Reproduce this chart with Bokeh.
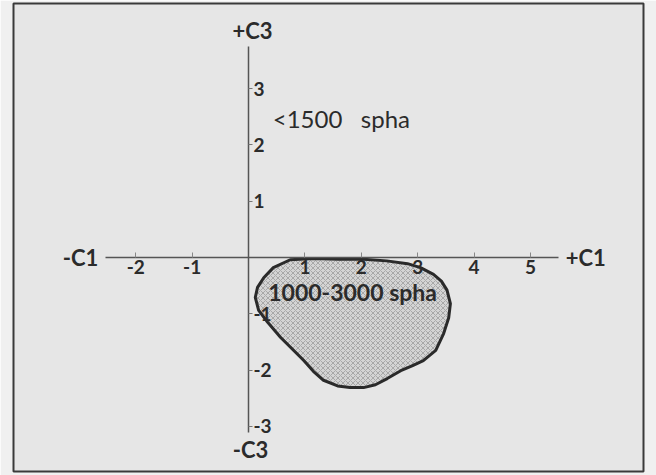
from bokeh.plotting import figure
from bokeh.models import LinearAxis, FixedTicker, Range1d, Label
from bokeh.embed import file_html
from bokeh.resources import INLINE

# ordination axes: tick positions
c1_ticks = [-2, -1, 1, 2, 3, 4, 5]
c3_ticks = [-3, -2, -1, 1, 2, 3]
c1_extent = (-2.54, 5.50)
c3_extent = (-3.11, 3.75)

# outline of the 1000-3000 spha stand-density region (C1, C3)
region_c1 = [0.74, 1.15, 1.60, 2.04, 2.45, 2.82, 3.05, 3.28, 3.42, 3.52,
             3.58, 3.55, 3.46, 3.32, 3.10, 2.91, 2.70, 2.46, 2.25, 2.04,
             1.80, 1.58, 1.33, 1.15, 0.98, 0.78, 0.57, 0.34, 0.18, 0.12,
             0.16, 0.27, 0.44]
region_c3 = [-0.04, -0.02, -0.03, -0.03, -0.06, -0.11, -0.18, -0.30, -0.42, -0.58,
             -0.82, -1.07, -1.35, -1.65, -1.83, -1.92, -2.01, -2.15, -2.26, -2.31,
             -2.31, -2.28, -2.18, -2.02, -1.83, -1.63, -1.42, -1.15, -0.94, -0.71,
             -0.53, -0.36, -0.18]

zone_labels = ["<1500\u00a0\u00a0\u00a0spha", "1000-3000 spha"]
zone_label_c1 = [0.43, 0.35]
zone_label_c3 = [2.47, -0.62]

FONT = "Lato"
INK = "#2b2b2b"

p = figure(width=656, height=475,
           x_range=Range1d(-4.167, 7.004), y_range=Range1d(-3.80, 4.51),
           x_axis_type=None, y_axis_type=None,
           output_backend="svg", toolbar_location=None,
           min_border_left=13, min_border_right=13,
           min_border_top=3, min_border_bottom=4)
p.grid.visible = False
p.background_fill_color = "#e6e6e6"
p.border_fill_color = "#f0f0f0"
p.outline_line_color = "#3a3a3a"
p.outline_line_width = 2

# shaded region
p.patch(region_c1, region_c3, fill_color="#d4d4d4",
        hatch_pattern="diagonal_cross", hatch_color="#a8a8a8",
        hatch_scale=5, hatch_weight=1,
        line_color="#2a2a2a", line_width=3)


def style_axis(ax):
    ax.axis_line_color = "#555555"
    ax.axis_line_width = 1.5
    ax.minor_tick_line_color = None
    ax.major_label_text_font = FONT
    ax.major_label_text_font_size = "19px"
    ax.major_label_text_font_style = "bold"
    ax.major_label_text_color = INK


# C1 axis through the origin
xa = LinearAxis(fixed_location=0, ticker=FixedTicker(ticks=c1_ticks),
                bounds=c1_extent,
                major_label_overrides={t: str(t) for t in c1_ticks})
style_axis(xa)
xa.major_tick_in = 5
xa.major_tick_out = 0
xa.major_tick_line_color = "#888888"
xa.major_label_standoff = 3
p.add_layout(xa, "below")

# C3 axis through the origin, labels on its right
ya = LinearAxis(fixed_location=0, ticker=FixedTicker(ticks=c3_ticks),
                bounds=c3_extent,
                major_label_overrides={t: str(t) for t in c3_ticks})
style_axis(ya)
ya.major_tick_in = 0
ya.major_tick_out = 4
ya.major_tick_line_color = "#777777"
ya.major_label_standoff = 1
ya.major_label_orientation = "horizontal"
p.add_layout(ya, "right")

# axis end labels
end_style = dict(text_font=FONT, text_font_size="22px", text_font_style="bold",
                 text_color=INK)
p.add_layout(Label(x=c1_extent[0], y=0, text="-C1", x_offset=-7,
                   text_align="right", text_baseline="middle", **end_style))
p.add_layout(Label(x=c1_extent[1], y=0, text="+C1", x_offset=7,
                   text_align="left", text_baseline="middle", **end_style))
p.add_layout(Label(x=0, y=c3_extent[1], text="+C3", x_offset=4, y_offset=2,
                   text_align="center", text_baseline="bottom", **end_style))
p.add_layout(Label(x=0, y=c3_extent[0], text="-C3", x_offset=2, y_offset=-3,
                   text_align="center", text_baseline="top", **end_style))

# zone labels
p.add_layout(Label(x=zone_label_c1[0], y=zone_label_c3[0], text=zone_labels[0],
                   text_align="left", text_baseline="middle", text_font=FONT,
                   text_font_size="24px", text_color=INK))
p.add_layout(Label(x=zone_label_c1[1], y=zone_label_c3[1], text=zone_labels[1],
                   text_align="left", text_baseline="middle", text_font=FONT,
                   text_font_size="23px", text_font_style="bold", text_color=INK))

open("out.html", "w").write(file_html(p, INLINE))
